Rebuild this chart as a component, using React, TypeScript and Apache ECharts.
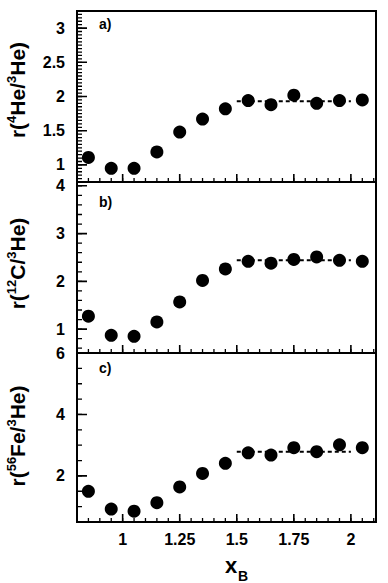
import React, { useEffect, useRef } from "react";
import * as echarts from "echarts";

// ---- data ----
const xB = [0.85, 0.95, 1.05, 1.15, 1.25, 1.35, 1.45, 1.55, 1.65, 1.75, 1.85, 1.95, 2.05];
const rHe4 = [1.11, 0.95, 0.95, 1.19, 1.48, 1.67, 1.82, 1.94, 1.88, 2.02, 1.9, 1.94, 1.95];
const rC12 = [1.27, 0.87, 0.85, 1.15, 1.57, 2.02, 2.26, 2.42, 2.38, 2.46, 2.51, 2.44, 2.42];
const rFe56 = [1.5, 0.92, 0.85, 1.13, 1.64, 2.08, 2.41, 2.75, 2.68, 2.92, 2.79, 3.01, 2.92];
const plateauValues = [1.93, 2.44, 2.79];
const plateauRange = [1.5, 2.0];
const xTickLabels = [1, 1.25, 1.5, 1.75, 2];
const yTicksA = [1, 1.5, 2, 2.5, 3];
const yTicksB = [1, 2, 3, 4];
const yTicksC = [2, 4, 6];
const panelLetters = ["a)", "b)", "c)"];
const yTitles = [
  "{m|r(}{s|4}{m|He/}{s|3}{m|He)}",
  "{m|r(}{s|12}{m|C/}{s|3}{m|He)}",
  "{m|r(}{s|56}{m|Fe/}{s|3}{m|He)}",
];

const FONT = "'Liberation Sans', Arial, Helvetica, sans-serif";

const steps = (from: number, to: number, step: number) => {
  const out: number[] = [];
  const n = Math.round((to - from) / step);
  for (let k = 0; k <= n; k++) out.push(Math.round((from + k * step) * 1000) / 1000);
  return out;
};

const X_MIN = 0.8;
const X_MAX = 2.11;
const GRID_LEFT = 77;
const GRID_WIDTH = 299;
const xMinorTicks = steps(0.85, 2.1, 0.05);

const panels = [
  { top: 11, height: 171, yMin: 0.75, yMax: 3.25, major: yTicksA, minor: steps(0.8, 3.2, 0.05), values: rHe4, letterY: 24, titleY: 90 },
  { top: 182, height: 171, yMin: 0.5, yMax: 4.08, major: yTicksB, minor: steps(0.6, 4.0, 0.2), values: rC12, letterY: 201.5, titleY: 263.5 },
  { top: 353, height: 169, yMin: 0.5, yMax: 6, major: yTicksC, minor: steps(1, 5.5, 0.5), values: rFe56, letterY: 368, titleY: 436 },
];

// a line series whose segments are the tick marks (broken by '-' gaps)
const tickLine = (i: number, data: any[], width: number) => ({
  type: "line",
  xAxisIndex: i,
  yAxisIndex: i,
  data,
  symbol: "none",
  showSymbol: false,
  connectNulls: false,
  lineStyle: { color: "#000", width },
  silent: true,
  z: 4,
});

export default function App() {
  const ref = useRef<HTMLDivElement>(null);

  useEffect(() => {
    document.body.style.margin = "0";
    if (!ref.current) return;
    const chart = echarts.init(ref.current, undefined, { renderer: "svg" });

    const grid: any[] = [];
    const xAxis: any[] = [];
    const yAxis: any[] = [];
    const series: any[] = [];
    const graphic: any[] = [];
    const pxToX = (X_MAX - X_MIN) / GRID_WIDTH;

    panels.forEach((p, i) => {
      const pxToY = (p.yMax - p.yMin) / p.height;
      grid.push({
        left: GRID_LEFT,
        width: GRID_WIDTH,
        top: p.top,
        height: p.height,
        show: true,
        borderColor: "#000",
        borderWidth: 2,
      });
      xAxis.push({
        gridIndex: i,
        type: "value",
        min: X_MIN,
        max: X_MAX,
        axisLine: { show: false },
        splitLine: { show: false },
        axisTick: { show: false },
        axisLabel: {
          show: i === 2,
          customValues: xTickLabels,
          color: "#000",
          fontFamily: FONT,
          fontWeight: "bold",
          fontSize: 16,
          margin: 9,
        },
      });
      yAxis.push({
        gridIndex: i,
        type: "value",
        min: p.yMin,
        max: p.yMax,
        axisLine: { show: false },
        splitLine: { show: false },
        axisTick: { show: false },
        axisLabel: {
          show: true,
          customValues: p.major,
          color: "#000",
          fontFamily: FONT,
          fontWeight: "bold",
          fontSize: 16,
          margin: 12,
        },
      });

      const xTicks = (vals: number[], px: number) => {
        const d: any[] = [];
        vals.forEach((v) => {
          d.push([v, p.yMin], [v, p.yMin + px * pxToY], ["-", "-"]);
        });
        return d;
      };
      const yTicks = (vals: number[], px: number) => {
        const d: any[] = [];
        vals.forEach((v) => {
          d.push([X_MIN, v], [X_MIN + px * pxToX, v], ["-", "-"]);
        });
        return d;
      };
      series.push(tickLine(i, xTicks(xTickLabels, 8), 1.6));
      series.push(tickLine(i, xTicks(xMinorTicks, 4), 1.3));
      series.push(tickLine(i, yTicks(p.major, 10), 1.6));
      series.push(tickLine(i, yTicks(p.minor, 5), 1.3));

      series.push({
        type: "line",
        xAxisIndex: i,
        yAxisIndex: i,
        data: plateauRange.map((x) => [x, plateauValues[i]]),
        symbol: "none",
        lineStyle: { color: "#000", width: 2, type: [4, 3] },
        silent: true,
      });
      series.push({
        type: "scatter",
        xAxisIndex: i,
        yAxisIndex: i,
        data: xB.map((x, k) => [x, p.values[k]]),
        symbol: "circle",
        symbolSize: 13,
        itemStyle: { color: "#000", opacity: 1 },
        silent: true,
        z: 5,
      });

      graphic.push({
        type: "text",
        x: 99,
        y: p.letterY,
        style: {
          text: panelLetters[i],
          fontFamily: FONT,
          fontWeight: "bold",
          fontSize: 14,
          fill: "#000",
          align: "left",
          verticalAlign: "middle",
        },
      });
      graphic.push({
        type: "text",
        x: 17,
        y: p.titleY,
        rotation: Math.PI / 2,
        style: {
          text: yTitles[i],
          align: "center",
          verticalAlign: "middle",
          rich: {
            m: { fontFamily: FONT, fontWeight: "bold", fontSize: 21, lineHeight: 24, fill: "#000" },
            s: { fontFamily: FONT, fontWeight: "bold", fontSize: 13, lineHeight: 14, fill: "#000", verticalAlign: "top" },
          },
        },
      });
    });

    graphic.push({
      type: "text",
      x: 225,
      y: 565,
      style: { text: "x", fontFamily: FONT, fontWeight: "bold", fontSize: 22, fill: "#000", align: "left", verticalAlign: "middle" },
    });
    graphic.push({
      type: "text",
      x: 238,
      y: 576,
      style: { text: "B", fontFamily: FONT, fontWeight: "bold", fontSize: 14, fill: "#000", align: "left", verticalAlign: "middle" },
    });

    chart.setOption({
      animation: false,
      backgroundColor: "#fff",
      grid,
      xAxis,
      yAxis,
      series,
      graphic,
    });

    return () => chart.dispose();
  }, []);

  return <div ref={ref} style={{ width: 388, height: 583 }} />;
}
